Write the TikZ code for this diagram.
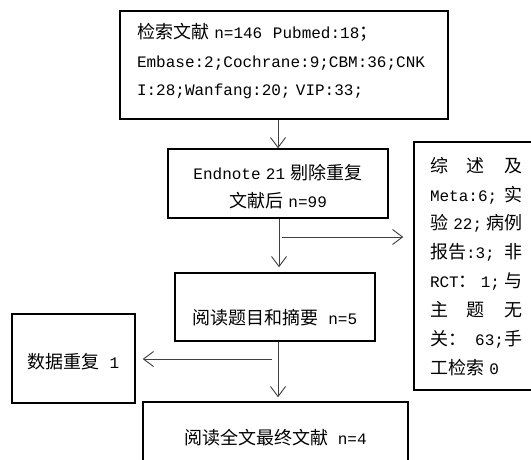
\documentclass[tikz,border=0pt]{standalone}
\usepackage{fontspec}
\setmainfont{Liberation Serif}
\setmonofont{Liberation Mono}
\newfontfamily\cjkfont{Noto Sans CJK SC}
\usetikzlibrary{arrows.meta}
\newcommand\Cn[1]{{\cjkfont\fontsize{18}{28}\selectfont #1}}
\newcommand\Jline[1]{\leavevmode\hbox to 92pt{#1}}
\tikzset{
  box/.style={draw=black, line width=1.5pt, inner sep=0pt, fill=white,
    font=\ttfamily\fontsize{16}{28.5}\selectfont},
  arr/.style={draw=black!75, line width=0.9pt,
    -{Straight Barb[length=10pt,width=15pt,line width=0.9pt]}},
}
\begin{document}
\begin{tikzpicture}[x=1pt,y=-1pt]
\clip (0,0) rectangle (531,460);
\fill[white] (0,0) rectangle (531,460);
% top box
\node[box, minimum width=328pt, minimum height=108pt, text width=294pt, align=left,
  text height=20pt, text depth=72pt] (top) at (284,65)
  {\Cn{检索文献} n=146\ \ Pubmed:18\Cn{；}\\
   Embase:2;Cochrane:9;CBM:36;CNK\\
   I:28;Wanfang:20; VIP:33;};
% endnote box
\node[box, minimum width=220pt, minimum height=69pt, text width=210pt, align=center,
  text height=23pt, text depth=32pt] (b2) at (278,183.5)
  {Endnote 21 \Cn{剔除重复}\\ \Cn{文献后} n=99};
% title/abstract box
\node[box, minimum width=200pt, minimum height=68pt,
  text height=40pt, text depth=6pt] (b3) at (275,307)
  {\Cn{阅读题目和摘要} n=5};
% duplicate box
\node[box, minimum width=123pt, minimum height=89pt,
  text height=24pt, text depth=5pt] (dup) at (73.5,358.5)
  {\Cn{数据重复} 1};
% final box
\node[box, minimum width=265pt, minimum height=80pt,
  text height=20pt, text depth=16pt] (b4) at (275.5,442)
  {\Cn{阅读全文最终文献} n=4};
% exclusion box
\node[box, minimum width=124pt, minimum height=248pt, text width=92pt, align=left,
  font=\ttfamily\fontsize{16}{29}\selectfont,
  text height=20pt, text depth=208pt] (exc) at (476,266)
  {\Jline{\Cn{综}\hfil\Cn{述}\hfil\Cn{及}}\\
   \Jline{Meta:6;\hfil\Cn{实}}\\
   \Jline{\Cn{验} 22;\hfil\Cn{病例}}\\
   \Jline{\Cn{报告}:3;\hfil\Cn{非}}\\
   \Jline{RCT\Cn{：}\hfil 1;\hfil\Cn{与}}\\
   \Jline{\Cn{主}\hfil\Cn{题}\hfil\Cn{无}}\\
   \Jline{\Cn{关：}\hfil 63;\Cn{手}}\\
   \Cn{工检索} 0};
% connectors
\coordinate (br1) at (282,237);
\coordinate (br2) at (272,359);
\draw[arr] (b2.north |- top.south) -- (b2.north);
\draw[arr, shorten >=5pt] (b2.south -| 279,0) -- (b3.north -| 279,0);
\draw[arr, shorten >=10pt] (br1) -- (br1 -| exc.west);
\draw[arr, shorten >=4pt] (b3.south -| 278,0) -- (b4.north -| 278,0);
\draw[arr, shorten >=7pt] (br2) -- (br2 -| dup.east);
\end{tikzpicture}
\end{document}
